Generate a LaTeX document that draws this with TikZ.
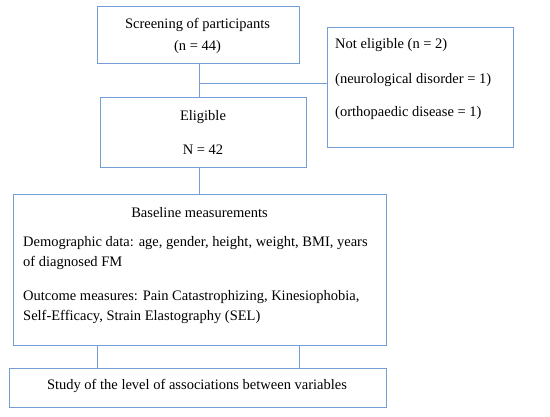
\documentclass[tikz,border=0pt]{standalone}
\usepackage{fontspec}
\setmainfont{Liberation Serif}
\definecolor{boxblue}{RGB}{118,158,214}
\tikzset{
  box/.style={draw=boxblue, line width=1pt, inner sep=0pt},
  txt/.style={font=\fontsize{14.5}{20}\selectfont, inner sep=0pt},
  link/.style={draw=boxblue, line width=1pt}
}
\begin{document}
\begin{tikzpicture}[x=1pt,y=-1pt]
  \useasboundingbox (0,0) rectangle (550,417);
  % boxes
  \node[box, minimum width=202pt, minimum height=57pt] (screen) at (198,35.5) {};
  \node[box, minimum width=186pt, minimum height=120pt] (notelig) at (420,88) {};
  \node[box, minimum width=206pt, minimum height=70pt] (elig) at (203,133) {};
  \node[box, minimum width=373pt, minimum height=151pt] (base) at (199.5,270.5) {};
  \node[box, minimum width=377pt, minimum height=39pt] (study) at (197.5,388.5) {};
  % texts
  \node[txt, align=center] (screentxt) at (197.5,36) {Screening of participants\\[2pt](n = 44)};
  \node[txt, align=left, anchor=west] (noteligtxt) at (335,79) {Not eligible (n = 2)\\[15pt](neurological disorder = 1)\\[13pt](orthopaedic disease = 1)};
  \node[txt, align=center] (eligtxt) at (203,132) {Eligible\\[14pt]N = 42};
  \node[txt] (basetitle) at (199.5,213) {Baseline measurements};
  \node[txt, align=left, anchor=north west] (basebody) at (23,236) {Demographic data: age, gender, height, weight, BMI, years\\of diagnosed FM\\[14pt]Outcome measures: Pain Catastrophizing, Kinesiophobia,\\Self-Efficacy, Strain Elastography (SEL)};
  \node[txt] (studytxt) at (197,386) {Study of the level of associations between variables};
  % connectors
  \coordinate (trunk) at (199,0);
  \coordinate (branch) at (199,84);
  \draw[link] (trunk |- screen.south) -- (trunk |- elig.north);
  \draw[link] (branch) -- (branch -| notelig.west);
  \draw[link] (trunk |- elig.south) -- (trunk |- base.north);
  \foreach \x in {97,299} {
      \draw[link] (base.south -| \x,0) -- (study.north -| \x,0);
  }
\end{tikzpicture}
\end{document}
